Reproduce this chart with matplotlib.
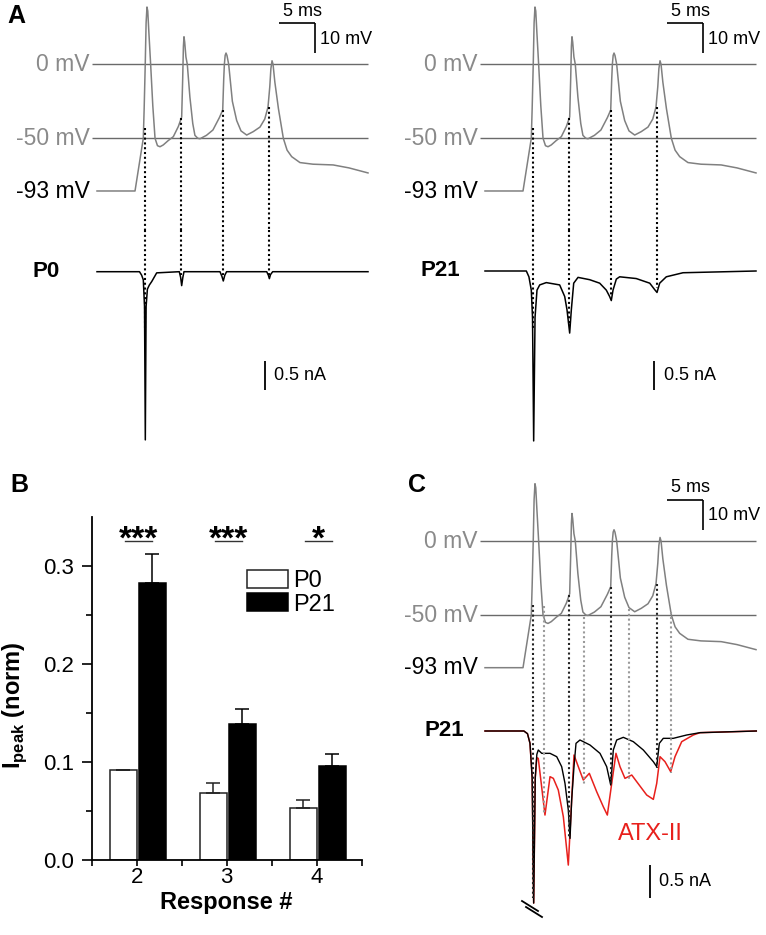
import numpy as np
import matplotlib
matplotlib.use('Agg')
import matplotlib.pyplot as plt
from matplotlib.patches import Rectangle
from matplotlib.lines import Line2D

plt.rcParams['font.family'] = ['Liberation Sans', 'DejaVu Sans']
plt.rcParams['mathtext.fontset'] = 'custom'
plt.rcParams['mathtext.rm'] = 'Liberation Sans'
plt.rcParams['mathtext.bf'] = 'Liberation Sans:bold'

# ---------------- data ----------------
# AP-clamp voltage command (time ms, mV), same waveform in every panel
VCMD_T = [0.0, 5.28, 6.43, 6.55, 6.70, 6.82, 6.94, 7.05, 7.20, 7.45, 7.75, 8.06, 8.40, 8.75, 9.20,
          9.90, 10.60, 11.30, 11.76, 11.90, 12.00, 12.08, 12.18, 12.35, 12.54, 12.90, 13.30, 13.60,
          14.00, 14.31, 15.20, 16.10, 17.00, 17.46, 17.60, 17.69, 17.80, 17.92, 18.05, 18.29, 18.80,
          19.40, 20.00, 20.79, 21.70, 22.64, 23.30, 23.75, 24.00, 24.15, 24.31, 24.45, 24.70, 25.20,
          25.88, 26.40, 27.04, 28.19, 30.00, 32.80, 35.00, 37.64]
VCMD_V = [-85.6, -85.6, -50.0, -30.0, 0.0, 28.0, 38.7, 36.0, 22.0, 0.0, -28.0, -50.0, -55.0, -55.7,
          -54.5, -51.5, -48.9, -42.0, -35.6, -10.0, 12.0, 18.6, 15.0, 5.0, 0.0, -22.0, -40.0, -48.0,
          -50.0, -50.3, -48.0, -44.4, -36.0, -30.9, -10.0, 0.0, 6.0, 7.6, 6.0, 0.0, -25.0, -38.0,
          -45.0, -47.8, -45.5, -42.4, -37.0, -28.9, -15.0, -3.0, 2.4, 0.0, -12.0, -30.0, -50.0,
          -58.0, -62.4, -66.4, -67.5, -68.0, -70.0, -73.4]
REF_LEVELS = [0, -50]
REF_LABELS = ['0 mV', '-50 mV']
HOLD_LABEL = '-93 mV'

# Na current, P0 (time ms, nA)
IP0_T = [0.0, 5.9, 6.2, 6.43, 6.60, 6.71, 6.82, 7.0, 7.27, 7.6, 8.29, 11.43, 11.62, 11.76, 11.92,
         12.08, 17.08, 17.35, 17.54, 17.75, 18.0, 23.57, 23.8, 23.94, 24.1, 24.4, 37.64]
IP0_I = [0.0, 0.0, -0.06, -0.14, -0.6, -2.9, -0.6, -0.3, -0.23, -0.17, -0.02, 0.0, -0.1, -0.24,
         -0.1, 0.0, 0.0, -0.08, -0.16, -0.06, 0.0, 0.0, -0.06, -0.12, -0.05, 0.0, 0.0]

# Na current, P21 (time ms, nA)
IP21_T = [0.0, 5.74, 6.1, 6.43, 6.6, 6.76, 6.95, 7.22, 7.6, 8.51, 10.37, 11.07, 11.39, 11.76, 11.99,
          12.32, 12.92, 14.54, 15.93, 16.85, 17.31, 17.54, 17.78, 18.24, 18.7, 21.0, 22.88, 23.56,
          23.89, 24.26, 25.18, 27.5, 37.64]
IP21_I = [0.0, 0.0, -0.1, -0.33, -0.8, -2.93, -0.8, -0.33, -0.24, -0.2, -0.24, -0.44, -0.67, -1.07,
          -0.67, -0.21, -0.11, -0.15, -0.21, -0.33, -0.44, -0.51, -0.33, -0.14, -0.1, -0.13, -0.21,
          -0.32, -0.37, -0.21, -0.1, -0.03, 0.0]

# Panel C: P21 control and ATX-II (time ms, nA)
IC_CTRL_T = [0.0, 5.4, 5.9, 6.25, 6.55, 6.76, 6.98, 7.2, 7.40, 7.88, 9.03, 9.96, 10.65, 11.11, 11.57,
             11.81, 12.04, 12.36, 12.64, 13.19, 14.58, 15.97, 16.90, 17.46, 17.82, 18.29, 19.21,
             20.6, 21.99, 23.38, 23.85, 24.21, 24.76, 26.15, 28.01, 29.86, 37.68]
IC_CTRL_I = [0, 0, -0.04, -0.185, -0.7, -2.58, -0.7, -0.35, -0.285, -0.335, -0.335, -0.385, -0.535,
             -0.785, -1.185, -1.61, -1.03, -0.535, -0.185, -0.135, -0.21, -0.335, -0.535, -0.81,
             -0.285, -0.135, -0.095, -0.16, -0.285, -0.46, -0.535, -0.185, -0.11, -0.11, -0.06,
             -0.025, 0]
IC_ATX_T = [0.0, 5.4, 5.9, 6.25, 6.55, 6.76, 6.98, 7.2, 7.40, 8.33, 9.03, 9.49, 10.18, 10.88, 11.57,
            12.04, 12.36, 12.96, 13.65, 14.49, 15.51, 16.43, 16.99, 17.6, 18.19, 18.75, 19.44,
            20.38, 21.07, 22.46, 23.38, 23.85, 24.31, 25.0, 25.79, 26.39, 27.32, 28.93, 29.86, 37.68]
IC_ATX_I = [0, 0, -0.04, -0.185, -0.7, -2.58, -0.7, -0.4, -0.41, -1.26, -0.685, -0.71, -0.885,
            -1.285, -2.01, -1.03, -0.36, -0.535, -0.735, -0.635, -0.91, -1.135, -1.26, -0.785,
            -0.335, -0.535, -0.71, -0.66, -0.76, -0.96, -1.025, -0.785, -0.385, -0.46, -0.61,
            -0.385, -0.16, -0.06, -0.025, 0]

# dotted markers (time ms, voltage top mV, current bottom nA)
ONSET_T = [6.67, 11.72, 17.46, 23.86]
ONSET_V = [-43.0, -36.3, -30.9, -28.9]
ONSET_I_P0 = [-1.0, -0.05, -0.05, -0.05]
ONSET_I_P21 = [-1.0, -0.9, -0.45, -0.3]
ONSET_I_C = [-2.5, -1.6, -0.81, -0.56]
REPOL_T = [8.19, 13.75, 19.96, 25.88]
REPOL_V = [-43.7, -51.1, -46.1, -47.8]
REPOL_I = [-1.23, -0.81, -0.735, -0.63]

# Panel B bar chart
RESPONSES = [2, 3, 4]
P0_MEAN = [0.092, 0.0685, 0.053]
P0_ERR = [0.0, 0.010, 0.008]
P21_MEAN = [0.282, 0.139, 0.096]
P21_ERR = [0.030, 0.015, 0.0125]
SIG_LABELS = ['***', '***', '*']
SIG_Y = 0.325
YTICKS = [0.0, 0.1, 0.2, 0.3]
YTICK_LABELS = ['0.0', '0.1', '0.2', '0.3']

# ---------------- layout ----------------
W, H = 766, 935
PX_MS = 7.2      # px per ms
PX_MV = 1.48     # px per mV
GRAY_TR = '#808080'
GRAY_REF = '#6a6a6a'
GRAY_TXT = '#8a8a8a'
RED = '#e8201c'

fig = plt.figure(figsize=(W / 100, H / 100), dpi=100)


def fx(x):
    return x / W


def fy(y):
    return 1 - y / H


def rect(x0, y0, x1, y1):
    return [x0 / W, 1 - y1 / H, (x1 - x0) / W, (y1 - y0) / H]


def trace_axes(x0, x1, t0px, ytop, ymid, ybot, yzero, ybase, px_na):
    axv = fig.add_axes(rect(x0, ytop, x1, ymid))
    axi = fig.add_axes(rect(x0, ymid, x1, ybot))
    xl = ((x0 - t0px) / PX_MS, (x1 - t0px) / PX_MS)
    axv.set_xlim(xl)
    axv.set_ylim(-(ymid - yzero) / PX_MV, (yzero - ytop) / PX_MV)
    axi.set_xlim(xl)
    axi.set_ylim(-(ybot - ybase) / px_na, (ybase - ymid) / px_na)
    for a in (axv, axi):
        a.set_axis_off()
    return axv, axi


def voltage_panel(axv, lab_x, yzero, ybase):
    axv.hlines(REF_LEVELS, -0.65, 37.65, color=GRAY_REF, lw=1.0)
    axv.plot(VCMD_T, VCMD_V, color=GRAY_TR, lw=1.1)
    for lvl, lab in zip(REF_LEVELS, REF_LABELS):
        fig.text(fx(lab_x), fy(yzero + (-lvl) * PX_MV), lab, ha='right', va='center',
                 color=GRAY_TXT, fontsize=16.5)
    fig.text(fx(lab_x), fy(ybase), HOLD_LABEL, ha='right', va='center', color='black',
             fontsize=16.5)
    # scale bars: 5 ms / 10 mV
    axv.plot([25.3, 30.3], [27.9, 27.9], color='black', lw=1.2, solid_capstyle='butt')
    axv.plot([30.3, 30.3], [27.9, 7.6], color='black', lw=1.2, solid_capstyle='butt')
    axv.text(28.5, 36.0, '5 ms', ha='center', va='center', fontsize=13)
    axv.text(31.0, 17.0, '10 mV', ha='left', va='center', fontsize=13)


def dotted(axv, axi, ts, vtops, ibots, color):
    for t, v, i in zip(ts, vtops, ibots):
        axv.plot([t, t], [v, axv.get_ylim()[0]], color=color, lw=1.5, ls=(0, (1, 1.3)),
                 clip_on=False, zorder=3)
        axi.plot([t, t], [axi.get_ylim()[1], i], color=color, lw=1.5, ls=(0, (1, 1.3)),
                 clip_on=False, zorder=3)


def na_bar(axi, t, i0, tx):
    axi.plot([t, t], [i0, i0 - 0.5], color='black', lw=1.3, solid_capstyle='butt')
    axi.text(tx, i0 - 0.25, '0.5 nA', ha='left', va='center', fontsize=13)


# ---- Panel A, P0 ----
avA0, aiA0 = trace_axes(88, 372, 97, 0, 230, 460, 64.3, 271.7, 58.0)
voltage_panel(avA0, 90, 64.3, 191)
aiA0.plot(IP0_T, IP0_I, color='black', lw=1.1)
dotted(avA0, aiA0, ONSET_T, ONSET_V, ONSET_I_P0, 'black')
na_bar(aiA0, 23.33, -1.54, 24.6)
fig.text(fx(32), fy(271.7), 'P0', ha='left', va='center', fontsize=16, fontweight='bold')

# ---- Panel A, P21 ----
avA21, aiA21 = trace_axes(476, 760, 485, 0, 230, 460, 64.3, 271.0, 58.0)
voltage_panel(avA21, 478, 64.3, 191)
aiA21.plot(IP21_T, IP21_I, color='black', lw=1.1)
dotted(avA21, aiA21, ONSET_T, ONSET_V, ONSET_I_P21, 'black')
na_bar(aiA21, 23.43, -1.55, 24.8)
fig.text(fx(421), fy(271), 'P21', ha='left', va='center', fontsize=16, fontweight='bold')

# ---- Panel C ----
avC, aiC = trace_axes(476, 760, 485, 460, 700, 935, 541.0, 731.0, 66.7)
voltage_panel(avC, 478, 541.0, 667.3)
aiC.plot(IC_ATX_T, IC_ATX_I, color=RED, lw=1.1)
aiC.plot(IC_CTRL_T, IC_CTRL_I, color='black', lw=1.0)
dotted(avC, aiC, ONSET_T, ONSET_V, ONSET_I_C, '#222222')
dotted(avC, aiC, REPOL_T, REPOL_V, REPOL_I, '#9a9a9a')
na_bar(aiC, 22.88, -2.01, 24.2)
aiC.text(23.0, -1.55, 'ATX-II', color=RED, ha='center', va='center', fontsize=17)
fig.text(fx(424), fy(731), 'P21', ha='left', va='center', fontsize=16, fontweight='bold')
# axis-break mark
for (xa, ya, xb, yb) in [(522, 901, 538, 911), (526, 907, 542, 917)]:
    fig.add_artist(Line2D([fx(xa), fx(xb)], [fy(ya), fy(yb)], color='black', lw=1.3))

# ---- Panel B ----
axB = fig.add_axes(rect(91.7, 516.7, 361.7, 860))
x = np.array(RESPONSES, dtype=float)
axB.bar(x, P0_MEAN, width=-0.3, align='edge', color='white', edgecolor='#222222', lw=1.1)
axB.bar(x + 0.025, P21_MEAN, width=0.3, align='edge', color='black', edgecolor='black', lw=1.1)
axB.errorbar(x - 0.15, P0_MEAN, yerr=[np.zeros(3), P0_ERR], fmt='none', ecolor='#222222',
             elinewidth=1.1, capsize=5, capthick=1.1)
axB.errorbar(x + 0.175, P21_MEAN, yerr=[np.zeros(3), P21_ERR], fmt='none', ecolor='black',
             elinewidth=1.1, capsize=5, capthick=1.1)
for xi, s in zip(x, SIG_LABELS):
    axB.plot([xi - 0.13, xi + 0.17], [SIG_Y, SIG_Y], color='#333333', lw=1.0)
    axB.text(xi + 0.02, 0.318, s, ha='center', va='baseline', fontsize=24, fontweight='bold')
axB.set_xlim(1.5, 4.5)
axB.set_ylim(0, 0.35)
axB.set_yticks(YTICKS)
axB.set_yticklabels(YTICK_LABELS)
axB.set_yticks([0.05, 0.15, 0.25], minor=True)
axB.set_xticks(RESPONSES)
axB.set_xticklabels([str(r) for r in RESPONSES])
axB.set_xticks([1.5, 2.5, 3.5, 4.5], minor=True)
for sp in ('top', 'right'):
    axB.spines[sp].set_visible(False)
for sp in ('left', 'bottom'):
    axB.spines[sp].set_linewidth(1.3)
axB.tick_params(axis='y', which='major', length=7, width=1.2, pad=6, labelsize=16)
axB.tick_params(axis='y', which='minor', length=4.5, width=1.2)
axB.tick_params(axis='x', which='both', length=4, width=1.2, pad=1, labelsize=16)
axB.set_xlabel('Response #', fontsize=17, fontweight='bold')
axB.xaxis.set_label_coords(0.5, -0.09)
axB.set_ylabel(r'$\mathbf{I}_{\mathbf{peak}}$ (norm)', fontsize=17, fontweight='bold')
axB.yaxis.set_label_coords(-0.232, 0.45)
handles = [Rectangle((0, 0), 1, 1, facecolor='white', edgecolor='#222222', lw=1.1),
           Rectangle((0, 0), 1, 1, facecolor='black', edgecolor='black', lw=1.1)]
axB.legend(handles, ['P0', 'P21'], loc='upper left', bbox_to_anchor=(0.575, 0.845),
           frameon=False, fontsize=17, handlelength=1.75, handleheight=0.8,
           labelspacing=0.05, handletextpad=0.2, borderpad=0, borderaxespad=0)

# panel letters
fig.text(fx(7), fy(16), 'A', ha='left', va='center', fontsize=18, fontweight='bold')
fig.text(fx(10), fy(485), 'B', ha='left', va='center', fontsize=18, fontweight='bold')
fig.text(fx(408), fy(485), 'C', ha='left', va='center', fontsize=18, fontweight='bold')

fig.savefig('out.png', dpi=100)
